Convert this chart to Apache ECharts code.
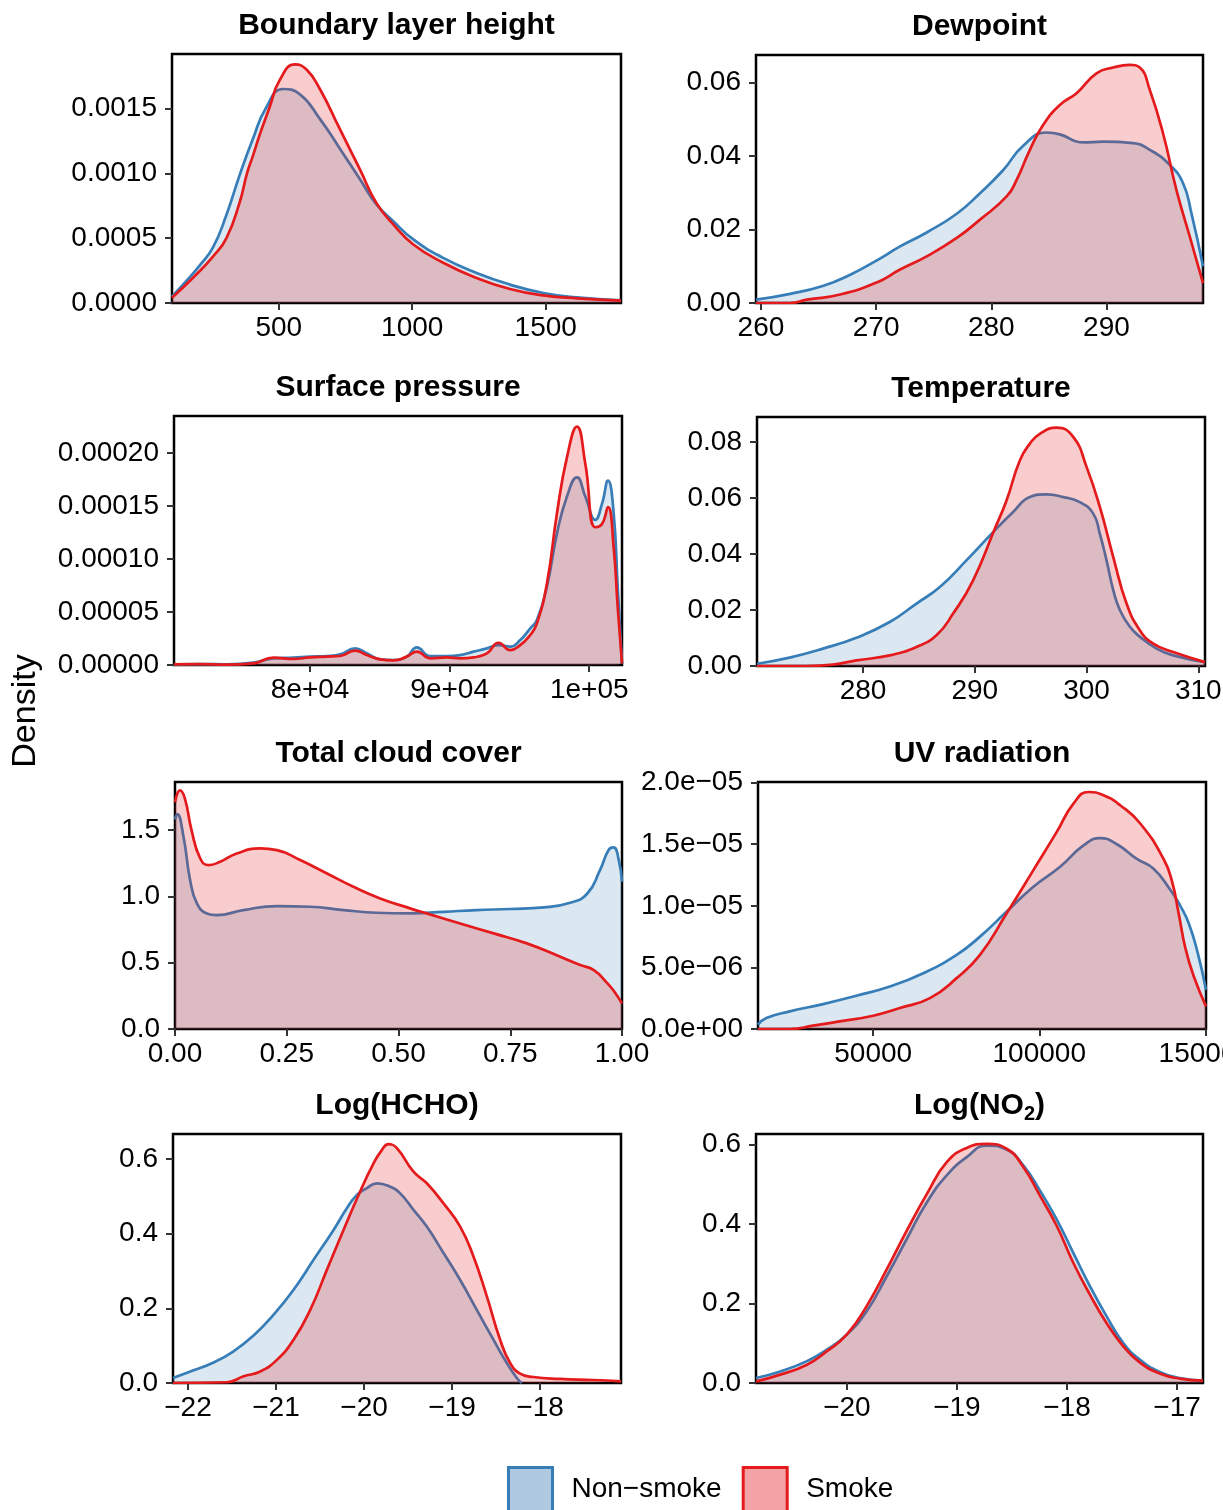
<!DOCTYPE html>
<html>
<head>
<meta charset="utf-8">
<script src="https://cdn.jsdelivr.net/npm/echarts@6/dist/echarts.min.js"></script>
<style>
html,body{margin:0;padding:0;background:#fff;}
#chart{width:1223px;height:1510px;}
</style>
</head>
<body>
<div id="chart"></div>
<script>
// ---------- Boundary layer height ----------
const blhNonX = [100,154,204,254,304,354,404,451,516,579,654,729,804,866,929,1004,1116,1241,1366,1491,1616,1782];
const blhNonY = [0.00005,0.00017,0.00029,0.00043,0.00068,0.00099,0.00127,0.0015,0.00165,0.00161,0.00142,0.00119,0.000954,0.00076,0.000631,0.00049,0.000348,0.000232,0.000142,0.000077,0.000044,0.00002];
const blhSmokeX = [100,191,254,304,354,381,404,429,464,504,561,604,654,729,804,866,929,1004,1116,1241,1366,1491,1616,1782];
const blhSmokeY = [0.00004,0.00022,0.00036,0.0005,0.00078,0.001,0.00114,0.0013,0.0015,0.00172,0.00184,0.0018,0.00165,0.00134,0.00103,0.00077,0.000606,0.000451,0.00031,0.000193,0.000108,0.000059,0.000036,0.000018];
const blhXTicks = [500,1000,1500];
const blhXLabels = ['500','1000','1500'];
const blhYTicks = [0,0.0005,0.001,0.0015];
const blhYLabels = ['0.0000','0.0005','0.0010','0.0015'];

// ---------- Dewpoint ----------
const dewNonX = [259.57,262.54,265.43,267.75,270.06,272.08,274.39,277.0,279.02,281.04,282.77,284.8,285.95,287.98,289.71,292.31,293.76,295.49,296.65,297.37,298.38];
const dewNonY = [0.0009,0.0025,0.0047,0.0077,0.0116,0.0154,0.0192,0.0243,0.0299,0.0362,0.0428,0.0464,0.0459,0.0437,0.0439,0.0435,0.0417,0.0376,0.0326,0.0245,0.010];
const dewSmokeX = [259.57,262.54,263.99,266.88,270.06,272.08,274.39,277.0,279.02,281.33,282.2,283.35,284.51,285.95,287.4,289.13,290.58,292.02,292.89,293.76,294.91,296.07,297.23,298.38];
const dewSmokeY = [0,0,0.0009,0.0023,0.0056,0.0091,0.0127,0.0177,0.0227,0.029,0.0335,0.0417,0.0485,0.0539,0.0571,0.0625,0.0641,0.0648,0.0641,0.058,0.0462,0.0308,0.0181,0.0054];
const dewXTicks = [260,270,280,290];
const dewXLabels = ['260','270','280','290'];
const dewYTicks = [0,0.02,0.04,0.06];
const dewYLabels = ['0.00','0.02','0.04','0.06'];

// ---------- Surface pressure ----------
const spX = [70249,72113,74025,75937,77371,78805,80000,81195,82151,83227,84063,85019,85975,86931,87648,88604,89799,90755,91711,92667,93504,94340,95057,95774,96252,96969,97686,98403,99120,99718,100435,100913,101344,101750,102037,102347];
const spNonY = [6e-7,9e-7,6e-7,2.2e-6,6.3e-6,6.9e-6,7.9e-6,8.5e-6,1.0e-5,1.57e-5,1.1e-5,5.3e-6,4.7e-6,7.9e-6,1.66e-5,8.5e-6,8.5e-6,9.4e-6,1.26e-5,1.57e-5,1.88e-5,1.73e-5,2.35e-5,3.45e-5,4.24e-5,7.4e-5,1.24e-4,1.59e-4,1.77e-4,1.59e-4,1.37e-4,1.52e-4,1.74e-4,1.43e-4,7.4e-5,1.6e-6];
const spSmokeY = [6e-7,9e-7,3e-7,1.6e-6,6.9e-6,5.7e-6,7.2e-6,7.9e-6,8.5e-6,1.35e-5,9.4e-6,5.3e-6,4.4e-6,7.9e-6,1.26e-5,6.3e-6,7.2e-6,6.3e-6,7.2e-6,1.1e-5,2.1e-5,1.41e-5,1.88e-5,2.83e-5,3.93e-5,7.7e-5,1.43e-4,1.96e-4,2.25e-4,1.9e-4,1.3e-4,1.33e-4,1.49e-4,1.11e-4,5.5e-5,1.6e-6];
const spXTicks = [80000,90000,100000];
const spXLabels = ['8e+04','9e+04','1e+05'];
const spYTicks = [0,0.00005,0.0001,0.00015,0.0002];
const spYLabels = ['0.00000','0.00005','0.00010','0.00015','0.00020'];

// ---------- Temperature ----------
const tNonX = [270.51,273.43,276.42,279.40,282.39,284.78,286.87,289.25,291.64,293.43,294.93,296.42,297.91,299.40,300.60,301.19,301.79,302.39,302.99,303.88,304.78,306.27,307.76,310.60];
const tNonY = [0.0008,0.003,0.0062,0.0101,0.0157,0.0223,0.0282,0.0377,0.0478,0.055,0.0603,0.0613,0.0603,0.0585,0.0544,0.0472,0.0377,0.0271,0.0199,0.014,0.0104,0.0062,0.0038,0.0014];
const tSmokeX = [270.51,274.93,277.31,279.40,282.39,284.78,286.57,288.06,289.85,291.79,292.84,294.03,294.93,295.82,297.31,298.81,300.0,301.19,302.39,303.58,304.78,305.97,307.76,310.60];
const tSmokeY = [0,0,0.0005,0.002,0.0038,0.0068,0.011,0.0187,0.0306,0.049,0.0591,0.0734,0.0794,0.0829,0.0851,0.0818,0.0711,0.0568,0.0389,0.0223,0.0127,0.008,0.005,0.0014];
const tXTicks = [280,290,300,310];
const tXLabels = ['280','290','300','310'];
const tYTicks = [0,0.02,0.04,0.06,0.08];
const tYLabels = ['0.00','0.02','0.04','0.06','0.08'];

// ---------- Total cloud cover ----------
const tccNonX = [0,0.005,0.019,0.034,0.049,0.071,0.093,0.153,0.228,0.302,0.377,0.451,0.526,0.601,0.675,0.75,0.825,0.884,0.922,0.951,0.970,0.981,0.993,1.0];
const tccNonY = [1.58,1.62,1.45,1.12,0.947,0.872,0.859,0.897,0.927,0.922,0.897,0.877,0.872,0.884,0.897,0.905,0.917,0.952,1.02,1.2,1.35,1.37,1.27,1.11];
const tccSmokeX = [0,0.011,0.022,0.037,0.056,0.075,0.101,0.138,0.19,0.228,0.28,0.34,0.399,0.459,0.526,0.563,0.638,0.713,0.787,0.862,0.907,0.937,0.966,0.981,1.0];
const tccSmokeY = [1.71,1.80,1.74,1.5,1.29,1.236,1.261,1.324,1.362,1.349,1.274,1.173,1.073,0.985,0.91,0.872,0.796,0.721,0.646,0.545,0.482,0.445,0.35,0.29,0.193];
const tccXTicks = [0,0.25,0.5,0.75,1];
const tccXLabels = ['0.00','0.25','0.50','0.75','1.00'];
const tccYTicks = [0,0.5,1,1.5];
const tccYLabels = ['0.0','0.5','1.0','1.5'];

// ---------- UV radiation ----------
const uvNonX = [15328,17840,24875,34925,44975,55025,65075,75125,82160,90200,98240,106280,113315,118340,123365,129395,134420,139445,142460,144973,147686,150199];
const uvNonY = [3.5e-7,8.9e-7,1.43e-6,2.02e-6,2.70e-6,3.45e-6,4.53e-6,6.02e-6,7.5e-6,9.53e-6,1.155e-5,1.317e-5,1.49e-5,1.55e-5,1.5e-5,1.38e-5,1.3e-5,1.13e-5,1.0e-5,8.6e-6,6.2e-6,3.18e-6];
const uvSmokeX = [15328,24875,31910,39950,50000,58040,67085,75125,82160,90200,98240,105275,110300,114823,119345,124370,130400,137435,139948,141958,143968,146480,150199];
const uvSmokeY = [0,0,2.7e-7,6.2e-7,1.08e-6,1.7e-6,2.51e-6,4.13e-6,6.02e-6,9.39e-6,1.29e-5,1.6e-5,1.83e-5,1.924e-5,1.897e-5,1.816e-5,1.668e-5,1.38e-5,1.2e-5,9.4e-6,6.6e-6,4.3e-6,1.84e-6];
const uvXTicks = [50000,100000,150000];
const uvXLabels = ['50000','100000','150000'];
const uvYTicks = [0,5e-6,1e-5,1.5e-5,2e-5];
const uvYLabels = ['0.0e+00','5.0e\u221206','1.0e\u221205','1.5e\u221205','2.0e\u221205'];

// ---------- Log(HCHO) ----------
const hchoNonX = [-22.17,-21.936,-21.709,-21.482,-21.255,-21.027,-20.8,-20.573,-20.346,-20.195,-20.081,-19.968,-19.854,-19.703,-19.589,-19.438,-19.287,-19.097,-18.908,-18.719,-18.530,-18.378,-18.265,-18.208];
const hchoNonY = [0.0134,0.034,0.055,0.085,0.127,0.183,0.25,0.33,0.41,0.468,0.504,0.522,0.535,0.526,0.508,0.464,0.419,0.348,0.276,0.196,0.116,0.0535,0.0134,0];
const hchoSmokeX = [-22.17,-21.557,-21.368,-21.179,-20.99,-20.8,-20.611,-20.422,-20.233,-20.044,-19.892,-19.798,-19.722,-19.627,-19.438,-19.287,-19.097,-18.908,-18.757,-18.605,-18.454,-18.341,-18.227,-18.076,-17.773,-17.395,-17.081];
const hchoSmokeY = [0,0.002,0.018,0.031,0.062,0.116,0.196,0.303,0.41,0.513,0.588,0.624,0.64,0.629,0.566,0.535,0.481,0.419,0.339,0.232,0.116,0.054,0.025,0.016,0.011,0.008,0.0045];
const hchoXTicks = [-22,-21,-20,-19,-18];
const hchoXLabels = ['\u221222','\u221221','\u221220','\u221219','\u221218'];
const hchoYTicks = [0,0.2,0.4,0.6];
const hchoYLabels = ['0.0','0.2','0.4','0.6'];

// ---------- Log(NO2) ----------
const no2X = [-20.826,-20.605,-20.363,-20.181,-20.0,-19.819,-19.637,-19.456,-19.274,-19.093,-18.911,-18.730,-18.549,-18.397,-18.246,-18.095,-17.944,-17.793,-17.641,-17.490,-17.339,-17.158,-16.976,-16.764];
const no2NonY = [0.0126,0.029,0.055,0.084,0.122,0.181,0.269,0.362,0.454,0.522,0.568,0.597,0.587,0.547,0.484,0.412,0.328,0.244,0.168,0.101,0.059,0.028,0.0126,0.0059];
const no2SmokeY = [0.004,0.021,0.046,0.08,0.122,0.194,0.286,0.383,0.475,0.555,0.591,0.601,0.589,0.543,0.471,0.396,0.303,0.223,0.151,0.093,0.052,0.024,0.011,0.006];
const no2XTicks = [-20,-19,-18,-17];
const no2XLabels = ['\u221220','\u221219','\u221218','\u221217'];
const no2YTicks = [0,0.2,0.4,0.6];
const no2YLabels = ['0.0','0.2','0.4','0.6'];

const seriesNames = ['Non\u2212smoke', 'Smoke'];

// ---------- panel definitions (data references + axis ranges) ----------
const panels = [
  {title:'Boundary layer height', nx:blhNonX, ny:blhNonY, sx:blhSmokeX, sy:blhSmokeY, xMin:100, xMax:1782, yMax:0.00192, xt:blhXTicks, xl:blhXLabels, yt:blhYTicks, yl:blhYLabels},
  {title:'Dewpoint', nx:dewNonX, ny:dewNonY, sx:dewSmokeX, sy:dewSmokeY, xMin:259.57, xMax:298.38, yMax:0.0675, xt:dewXTicks, xl:dewXLabels, yt:dewYTicks, yl:dewYLabels},
  {title:'Surface pressure', nx:spX, ny:spNonY, sx:spX, sy:spSmokeY, xMin:70249, xMax:102347, yMax:0.000235, xt:spXTicks, xl:spXLabels, yt:spYTicks, yl:spYLabels},
  {title:'Temperature', nx:tNonX, ny:tNonY, sx:tSmokeX, sy:tSmokeY, xMin:270.51, xMax:310.6, yMax:0.0889, xt:tXTicks, xl:tXLabels, yt:tYTicks, yl:tYLabels},
  {title:'Total cloud cover', nx:tccNonX, ny:tccNonY, sx:tccSmokeX, sy:tccSmokeY, xMin:0, xMax:1, yMax:1.863, xt:tccXTicks, xl:tccXLabels, yt:tccYTicks, yl:tccYLabels},
  {title:'UV radiation', nx:uvNonX, ny:uvNonY, sx:uvSmokeX, sy:uvSmokeY, xMin:15328, xMax:150199, yMax:2.005e-5, xt:uvXTicks, xl:uvXLabels, yt:uvYTicks, yl:uvYLabels},
  {title:'Log(HCHO)', nx:hchoNonX, ny:hchoNonY, sx:hchoSmokeX, sy:hchoSmokeY, xMin:-22.17, xMax:-17.081, yMax:0.667, xt:hchoXTicks, xl:hchoXLabels, yt:hchoYTicks, yl:hchoYLabels},
  {title:'{t|Log(NO}{s|2}{t|)}', nx:no2X, ny:no2NonY, sx:no2X, sy:no2SmokeY, xMin:-20.826, xMax:-16.764, yMax:0.626, xt:no2XTicks, xl:no2XLabels, yt:no2YTicks, yl:no2YLabels}
];

// ---------- layout (pixel boxes: left, top, width, height) ----------
const boxes = [
  [172, 54, 449, 249], [756, 55, 447, 248],
  [174, 416, 448, 249], [757, 417, 448, 249],
  [175, 782, 447, 247], [758, 782, 448, 247],
  [173, 1134, 448, 249], [756, 1134, 447, 249]
];

const FONT = '"Liberation Sans", Arial, Helvetica, sans-serif';
const BLUE = '#377EB8', RED = '#E41A1C';
const BLUE_FILL = 'rgba(55,126,184,0.18)', RED_FILL = 'rgba(228,26,28,0.22)';

function makeFormatter(ticks, labels, range) {
  return function (v) {
    let best = -1, bd = Infinity;
    ticks.forEach((t, i) => { const d = Math.abs(t - v); if (d < bd) { bd = d; best = i; } });
    return (best >= 0 && bd <= Math.abs(range) * 1e-6) ? labels[best] : '';
  };
}

const grids = [], xAxes = [], yAxes = [], series = [], titles = [];
panels.forEach((p, i) => {
  const b = boxes[i];
  grids.push({left: b[0], top: b[1], width: b[2], height: b[3], show: true, borderColor: '#000', borderWidth: 2.5,
    backgroundColor: 'transparent', containLabel: false, outerBoundsMode: 'none'});
  const tickStyle = {show: true, inside: false, length: 7, lineStyle: {color: '#333', width: 2}};
  xAxes.push({
    type: 'value', gridIndex: i, min: p.xMin, max: p.xMax, position: 'bottom',
    axisLine: {show: false}, splitLine: {show: false},
    axisTick: Object.assign({customValues: p.xt}, tickStyle),
    axisLabel: {customValues: p.xt, formatter: makeFormatter(p.xt, p.xl, p.xMax - p.xMin), fontSize: 28, color: '#000', fontFamily: FONT, margin: 11, hideOverlap: false}
  });
  yAxes.push({
    type: 'value', gridIndex: i, min: 0, max: p.yMax, position: 'left',
    axisLine: {show: false}, splitLine: {show: false},
    axisTick: Object.assign({customValues: p.yt}, tickStyle),
    axisLabel: {customValues: p.yt, formatter: makeFormatter(p.yt, p.yl, p.yMax), fontSize: 28, color: '#000', fontFamily: FONT, margin: 15, hideOverlap: false}
  });
  const common = {type: 'line', xAxisIndex: i, yAxisIndex: i, showSymbol: false, symbol: 'none', smooth: 0.5, silent: true, animation: false};
  series.push(Object.assign({}, common, {
    name: seriesNames[0], z: 2,
    data: p.nx.map((x, k) => [x, p.ny[k]]),
    lineStyle: {color: BLUE, width: 2.7}, itemStyle: {color: BLUE}, areaStyle: {color: BLUE_FILL, opacity: 1}
  }));
  series.push(Object.assign({}, common, {
    name: seriesNames[1], z: 3,
    data: p.sx.map((x, k) => [x, p.sy[k]]),
    lineStyle: {color: RED, width: 2.7}, itemStyle: {color: RED}, areaStyle: {color: RED_FILL, opacity: 1}
  }));
  titles.push({
    text: p.title, left: b[0] + b[2] / 2, top: b[1] - 28, textAlign: 'center', textVerticalAlign: 'middle', padding: 0,
    textStyle: {fontSize: 30, fontWeight: 'bold', color: '#000', fontFamily: FONT,
      rich: {
        t: {fontSize: 30, fontWeight: 'bold', color: '#000', fontFamily: FONT, lineHeight: 36},
        s: {fontSize: 20, fontWeight: 'bold', color: '#000', fontFamily: FONT, verticalAlign: 'bottom'}
      }}
  });
});

const chart = echarts.init(document.getElementById('chart'), null, {renderer: 'canvas', width: 1223, height: 1510});
chart.setOption({
  backgroundColor: '#fff',
  animation: false,
  title: titles,
  grid: grids,
  xAxis: xAxes,
  yAxis: yAxes,
  series: series,
  legend: {
    left: 507, top: 1466, padding: 0, itemWidth: 44, itemHeight: 44, itemGap: 20, icon: 'rect', selectedMode: false,
    textStyle: {fontSize: 28, color: '#000', fontFamily: FONT, padding: [0, 0, 0, 14]},
    data: [
      {name: seriesNames[0], itemStyle: {color: '#AFC9E0', borderColor: BLUE, borderWidth: 3}},
      {name: seriesNames[1], itemStyle: {color: '#F3A3A5', borderColor: RED, borderWidth: 3}}
    ]
  },
  graphic: [{
    type: 'text', x: 26, y: 711, rotation: Math.PI / 2,
    style: {text: 'Density', font: '34px ' + FONT, fill: '#000', align: 'center', verticalAlign: 'middle'}
  }]
});
</script>
</body>
</html>
